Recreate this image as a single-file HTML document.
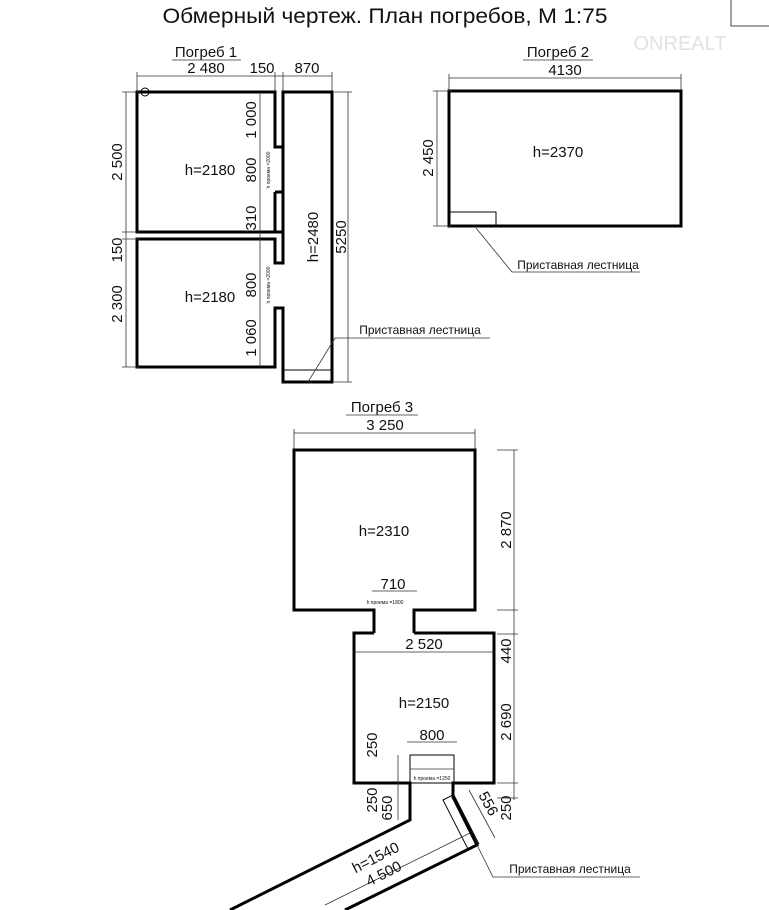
<!DOCTYPE html>
<html><head><meta charset="utf-8"><style>
html,body{margin:0;padding:0;background:#fff}
svg{display:block}
text{font-family:"Liberation Sans","DejaVu Sans",sans-serif;fill:#111}
.w{fill:none;stroke:#000;stroke-width:3;stroke-linejoin:miter}
.d{fill:none;stroke:#333;stroke-width:0.8}
.t{font-size:15px}
.s{font-size:12px}
.tiny{font-size:5px}
</style></head><body>
<svg width="769" height="910" viewBox="0 0 769 910" xmlns="http://www.w3.org/2000/svg">
<rect x="731" y="-2" width="40" height="28" fill="none" stroke="#444" stroke-width="1"/>
<text x="385" y="23" text-anchor="middle" style="font-size:21px" textLength="445" lengthAdjust="spacingAndGlyphs">Обмерный чертеж. План погребов, М 1:75</text>
<text x="680" y="50" text-anchor="middle" style="font-size:20px;fill:#e2e2e2">ONREALT</text>

<!-- Pogreb 1 -->
<text x="206" y="57" text-anchor="middle" class="t">Погреб 1</text>
<line x1="172" y1="60" x2="241" y2="60" class="d"/>
<line x1="137" y1="76" x2="332" y2="76" class="d"/>
<line x1="137" y1="72" x2="137" y2="95" class="d"/><line x1="275" y1="72" x2="275" y2="95" class="d"/><line x1="283" y1="72" x2="283" y2="95" class="d"/><line x1="332" y1="72" x2="332" y2="95" class="d"/>
<text x="206" y="73" text-anchor="middle" class="t">2 480</text>
<text x="262" y="73" text-anchor="middle" class="t">150</text>
<text x="307" y="73" text-anchor="middle" class="t">870</text>
<circle cx="145" cy="92" r="4" fill="none" stroke="#000"/>
<path class="w" d="M283 147 L275 147 L275 92 L137 92 L137 232 L283 232 M275 192 L283 192 L283 147"/>
<path class="w" d="M275 192 L275 232"/>
<path class="w" d="M283 192 L283 263 L275 263 L275 239 L137 239 L137 367 L275 367 L275 308 L283 308 L283 382 L332 382 L332 92 L283 92 L283 147"/>
<line x1="283" y1="370" x2="332" y2="370" stroke="#000" stroke-width="1"/>
<line x1="126" y1="92" x2="126" y2="367" class="d"/>
<line x1="122" y1="92" x2="140" y2="92" class="d"/><line x1="122" y1="232" x2="140" y2="232" class="d"/><line x1="122" y1="239" x2="140" y2="239" class="d"/><line x1="122" y1="367" x2="140" y2="367" class="d"/>
<text transform="translate(122,162) rotate(-90)" text-anchor="middle" class="t">2 500</text>
<text transform="translate(122,250) rotate(-90)" text-anchor="middle" class="t">150</text>
<text transform="translate(122,304) rotate(-90)" text-anchor="middle" class="t">2 300</text>
<line x1="260" y1="92" x2="260" y2="367" class="d"/>
<text transform="translate(256,120) rotate(-90)" text-anchor="middle" class="t">1 000</text>
<text transform="translate(256,170) rotate(-90)" text-anchor="middle" class="t">800</text>
<text transform="translate(256,218) rotate(-90)" text-anchor="middle" class="t">310</text>
<text transform="translate(256,285) rotate(-90)" text-anchor="middle" class="t">800</text>
<text transform="translate(256,338) rotate(-90)" text-anchor="middle" class="t">1 060</text>
<text transform="translate(270,170) rotate(-90)" text-anchor="middle" class="tiny">h проема =2000</text>
<text transform="translate(270,285) rotate(-90)" text-anchor="middle" class="tiny">h проема =2000</text>
<text x="210" y="175" text-anchor="middle" class="t">h=2180</text>
<text x="210" y="302" text-anchor="middle" class="t">h=2180</text>
<text transform="translate(318,237) rotate(-90)" text-anchor="middle" class="t">h=2480</text>
<line x1="348" y1="92" x2="348" y2="382" class="d"/>
<line x1="334" y1="92" x2="352" y2="92" class="d"/><line x1="334" y1="382" x2="352" y2="382" class="d"/>
<text transform="translate(346,237) rotate(-90)" text-anchor="middle" class="t">5250</text>
<path class="d" d="M308 382 L335 338 L490 338"/>
<text x="420" y="334" text-anchor="middle" class="s">Приставная лестница</text>

<!-- Pogreb 2 -->
<text x="558" y="57" text-anchor="middle" class="t">Погреб 2</text>
<line x1="523" y1="60" x2="593" y2="60" class="d"/>
<line x1="449" y1="78" x2="681" y2="78" class="d"/>
<line x1="449" y1="74" x2="449" y2="92" class="d"/><line x1="681" y1="74" x2="681" y2="92" class="d"/>
<text x="565" y="75" text-anchor="middle" class="t">4130</text>
<rect x="449" y="91" width="232" height="135" class="w"/>
<rect x="449" y="212" width="47" height="14" fill="none" stroke="#000" stroke-width="1"/>
<line x1="437" y1="91" x2="437" y2="226" class="d"/>
<line x1="433" y1="91" x2="452" y2="91" class="d"/><line x1="433" y1="226" x2="452" y2="226" class="d"/>
<text transform="translate(433,158) rotate(-90)" text-anchor="middle" class="t">2 450</text>
<text x="558" y="157" text-anchor="middle" class="t">h=2370</text>
<path class="d" d="M476 228 L512 272 L640 272"/>
<text x="578" y="269" text-anchor="middle" class="s">Приставная лестница</text>

<!-- Pogreb 3 -->
<text x="382" y="412" text-anchor="middle" class="t">Погреб 3</text>
<line x1="346" y1="415" x2="418" y2="415" class="d"/>
<line x1="294" y1="433" x2="475" y2="433" class="d"/>
<line x1="294" y1="429" x2="294" y2="452" class="d"/><line x1="475" y1="429" x2="475" y2="452" class="d"/>
<text x="385" y="430" text-anchor="middle" class="t">3 250</text>
<path class="w" d="M374 633 L374 610 L294 610 L294 450 L475 450 L475 610 L414 610 L414 633"/>
<text x="384" y="536" text-anchor="middle" class="t">h=2310</text>
<line x1="372" y1="591" x2="417" y2="591" class="d"/>
<text x="393" y="589" text-anchor="middle" class="t">710</text>
<text x="385" y="604" text-anchor="middle" class="tiny">h проема =1800</text>
<path class="w" d="M374 633 L354 633 L354 783 L410 783 L410 820 L230 910"/>
<path class="w" d="M414 633 L494 633 L494 783 L453 783 L453 797 L477 845 L345 910"/>
<line x1="354" y1="652" x2="494" y2="652" class="d"/>
<text x="424" y="649" text-anchor="middle" class="t">2 520</text>
<text x="424" y="708" text-anchor="middle" class="t">h=2150</text>
<line x1="514" y1="450" x2="514" y2="800" class="d"/>
<line x1="497" y1="450" x2="518" y2="450" class="d"/><line x1="497" y1="610" x2="518" y2="610" class="d"/><line x1="497" y1="634" x2="518" y2="634" class="d"/><line x1="497" y1="783" x2="518" y2="783" class="d"/><line x1="497" y1="798" x2="518" y2="798" class="d"/>
<text transform="translate(511,530) rotate(-90)" text-anchor="middle" class="t">2 870</text>
<text transform="translate(511,651) rotate(-90)" text-anchor="middle" class="t">440</text>
<text transform="translate(511,722) rotate(-90)" text-anchor="middle" class="t">2 690</text>
<text transform="translate(511,808) rotate(-90)" text-anchor="middle" class="t">250</text>
<rect x="410" y="755" width="44" height="28" fill="none" stroke="#000" stroke-width="1"/>
<line x1="410" y1="769" x2="454" y2="769" class="d"/>
<line x1="407" y1="742" x2="457" y2="742" class="d"/>
<text x="432" y="740" text-anchor="middle" class="t">800</text>
<text x="432" y="780" text-anchor="middle" class="tiny">h проема =1250</text>
<line x1="398" y1="755" x2="398" y2="820" class="d"/>
<text transform="translate(377,745) rotate(-90)" text-anchor="middle" class="t">250</text>
<text transform="translate(377,800) rotate(-90)" text-anchor="middle" class="t">250</text>
<text transform="translate(392,808) rotate(-90)" text-anchor="middle" class="t">650</text>
<g transform="translate(443,800) rotate(-27)">
<rect x="0" y="0" width="12" height="55" fill="none" stroke="#000" stroke-width="1"/>
</g>
<line x1="469" y1="790" x2="495" y2="838" class="d"/>
<text transform="translate(484,806) rotate(62)" text-anchor="middle" class="t">556</text>
<line x1="325" y1="905" x2="470" y2="833" class="d"/>
<text transform="translate(378,862) rotate(-27)" text-anchor="middle" class="t">h=1540</text>
<text transform="translate(386,878) rotate(-27)" text-anchor="middle" class="t">4 500</text>
<path class="d" d="M477 845 L493 877 L640 877"/>
<text x="570" y="873" text-anchor="middle" class="s">Приставная лестница</text>
</svg>
</body></html>
